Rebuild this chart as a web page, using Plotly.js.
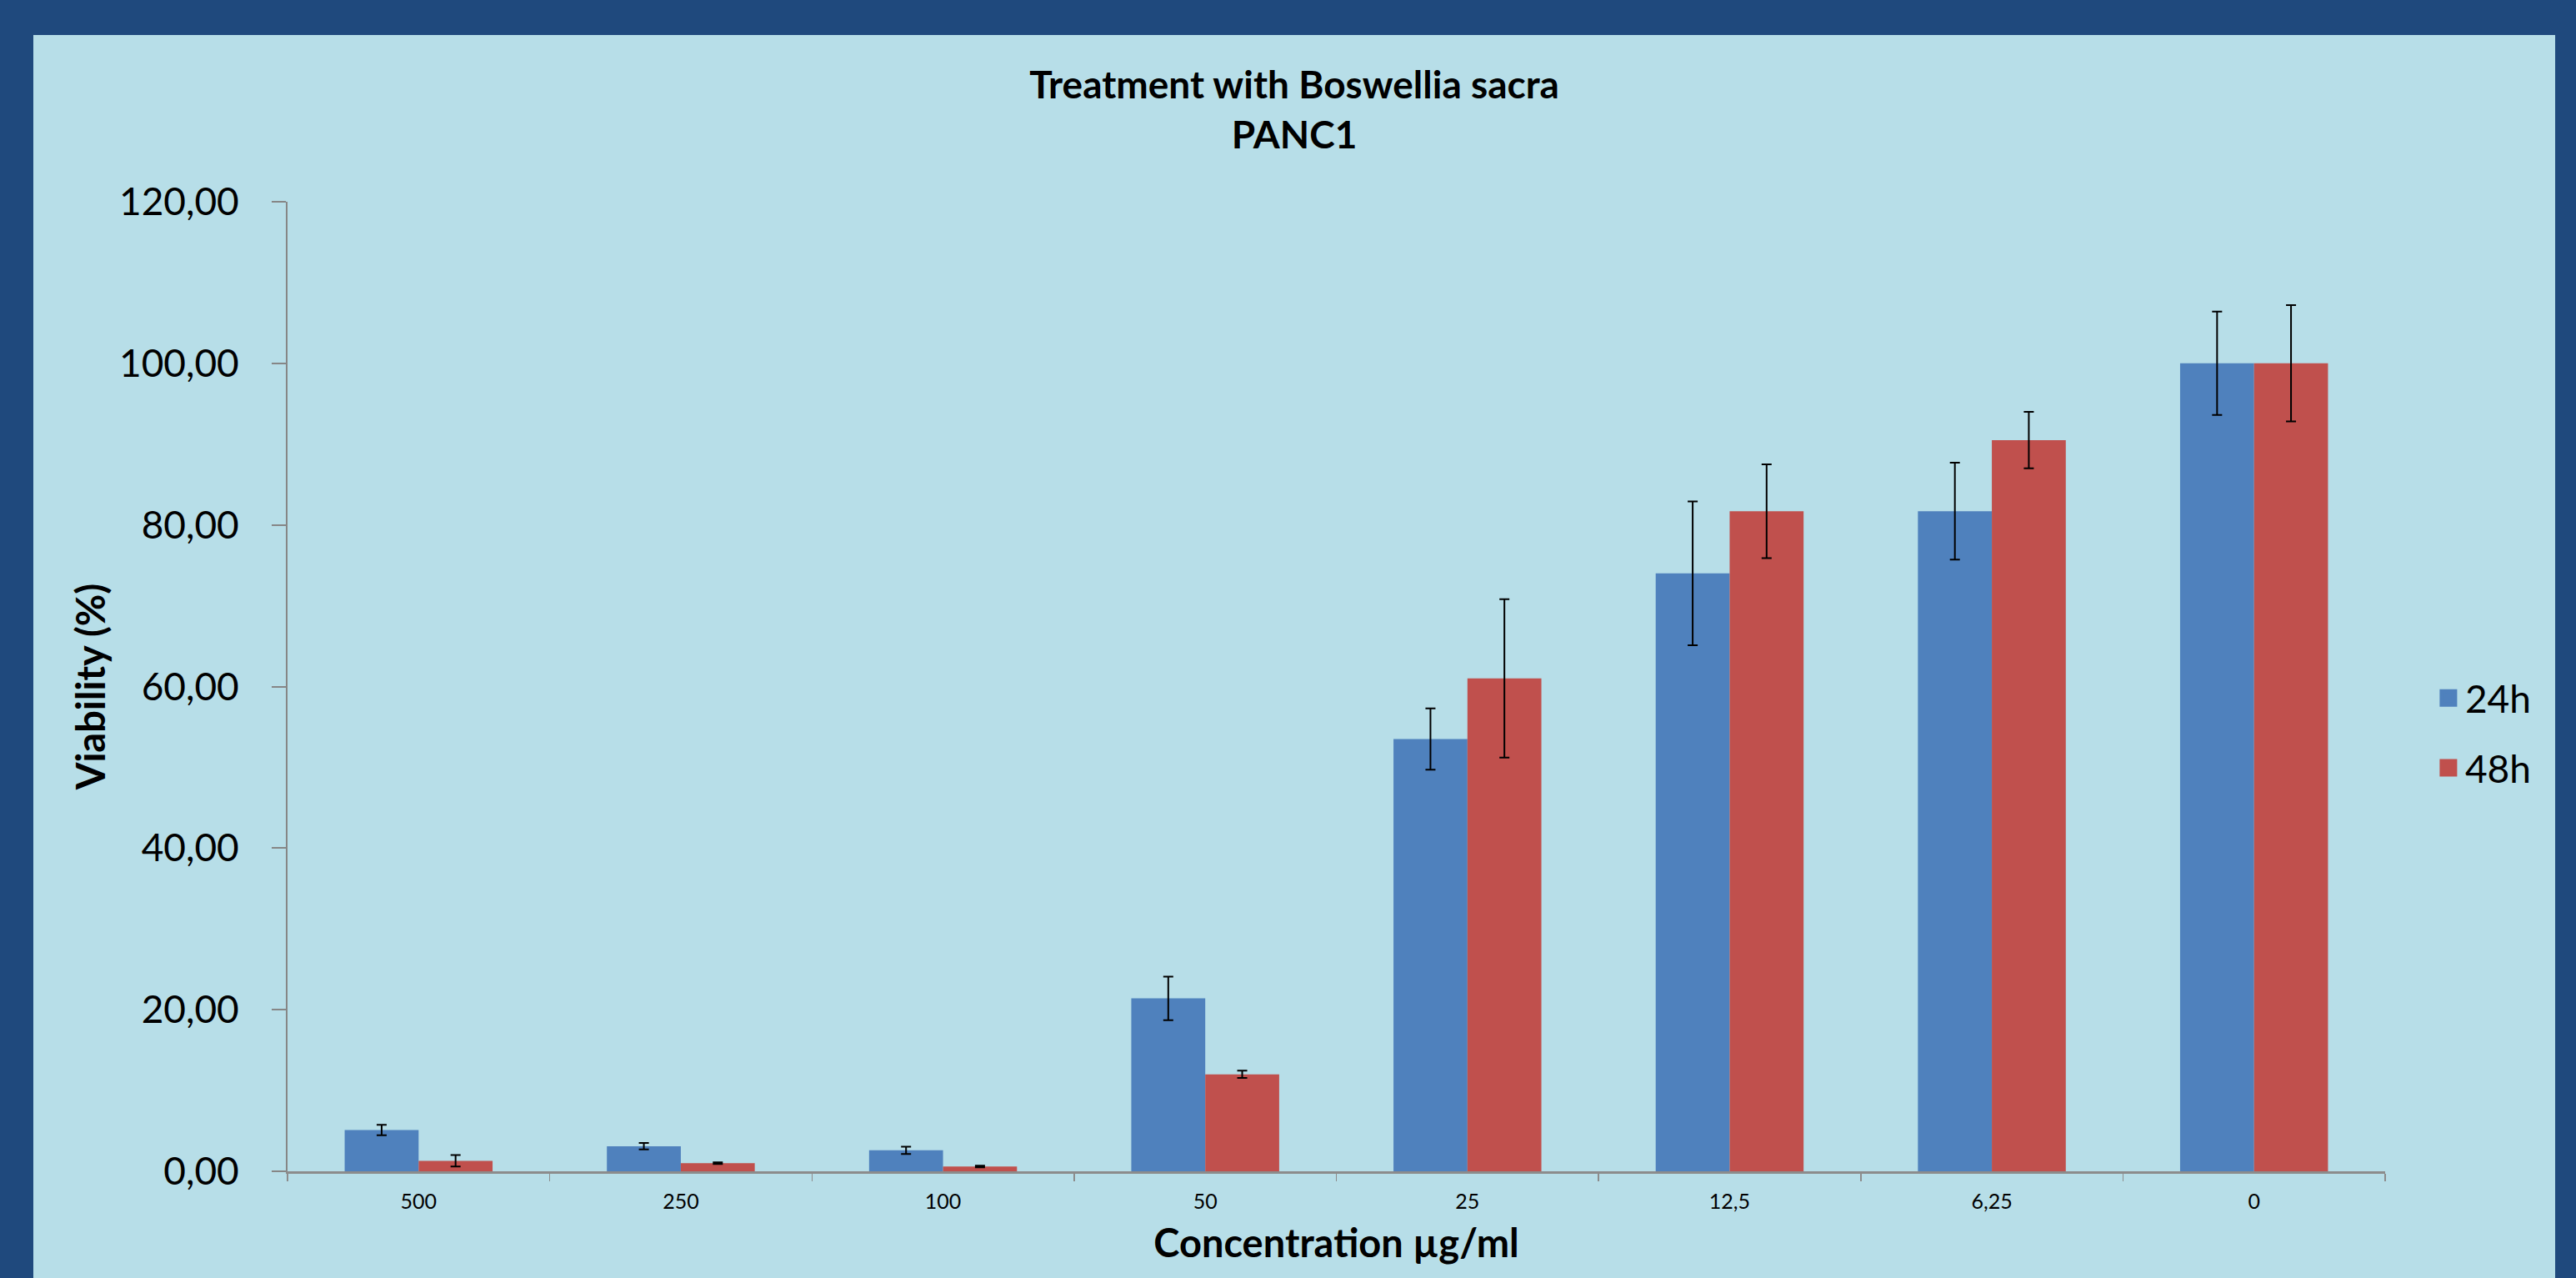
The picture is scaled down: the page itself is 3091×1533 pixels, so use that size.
<!DOCTYPE html>
<html>
<head>
<meta charset="utf-8">
<script src="https://cdn.plot.ly/plotly-3.0.1.min.js"></script>
<style>
  html, body { margin: 0; padding: 0; background: #1F497D; width: 3091px; height: 1533px; overflow: hidden; }
  #chart { position: absolute; left: 40px; top: 42px; width: 3026px; height: 1491px; }
</style>
</head>
<body>
<div id="chart"></div>
<script>
// Data
const concentrations = ["500", "250", "100", "50", "25", "12,5", "6,25", "0"];
const viability24h = [5.1, 3.1, 2.6, 21.4, 53.5, 74.0, 81.7, 100.0];
const error24h     = [0.65, 0.4, 0.45, 2.7, 3.8, 8.9, 6.0, 6.4];
const viability48h = [1.3, 1.0, 0.6, 12.0, 61.0, 81.7, 90.5, 100.0];
const error48h     = [0.7, 0.1, 0.1, 0.45, 9.8, 5.8, 3.5, 7.2];
const seriesNames  = ["24h", "48h"];
const seriesColors = ["#4F81BD", "#C0504D"];

const FONT = "Lato, 'Open Sans', sans-serif";

const traces = [
  {
    type: "bar", x: concentrations, y: viability24h, name: seriesNames[0],
    marker: { color: seriesColors[0] }, showlegend: false,
    error_y: { type: "data", array: error24h, visible: true, color: "#000000", thickness: 2, width: 6 }
  },
  {
    type: "bar", x: concentrations, y: viability48h, name: seriesNames[1],
    marker: { color: seriesColors[1] }, showlegend: false,
    error_y: { type: "data", array: error48h, visible: true, color: "#000000", thickness: 2, width: 6 }
  },
  // legend entries (square swatches)
  {
    type: "scatter", mode: "markers", x: [null], y: [null], name: seriesNames[0], legendgroup: "a",
    marker: { symbol: "square", size: 16, color: seriesColors[0], line: { color: seriesColors[0], width: 5 } },
    hoverinfo: "skip"
  },
  {
    type: "scatter", mode: "markers", x: [null], y: [null], name: seriesNames[1], legendgroup: "b",
    marker: { symbol: "square", size: 16, color: seriesColors[1], line: { color: seriesColors[1], width: 5 } },
    hoverinfo: "skip"
  }
];

const layout = {
  width: 3026, height: 1491,
  paper_bgcolor: "#B7DEE8",
  plot_bgcolor: "#B7DEE8",
  separators: ",.",
  font: { family: FONT, color: "#000000" },
  margin: { l: 305, r: 204, t: 200, b: 128, pad: 0 },
  title: {
    text: "<b>Treatment with Boswellia sacra<br>PANC1</b>",
    font: { family: FONT, size: 46, color: "#000000" },
    x: 0.5, xref: "container", xanchor: "center",
    y: 0.949, yref: "container", yanchor: "top"
  },
  barmode: "group",
  bargap: 0.436,
  bargroupgap: 0,
  xaxis: {
    type: "category",
    categoryorder: "array", categoryarray: concentrations,
    range: [-0.5, 7.5],
    showline: true, linecolor: "#8C8C8C", linewidth: 3,
    ticks: "outside", tickson: "boundaries", ticklen: 9, tickwidth: 1.5, tickcolor: "#8C8C8C",
    showgrid: false, zeroline: false,
    tickfont: { family: FONT, size: 25, color: "#000000" },
    ticklabelstandoff: 12,
    title: { text: "<b>Concentration µg/ml</b>", font: { family: FONT, size: 47, color: "#000000" }, standoff: 22 }
  },
  yaxis: {
    range: [0, 120], dtick: 20, tick0: 0,
    tickformat: ".2f",
    showline: true, linecolor: "#868686", linewidth: 2,
    ticks: "outside", ticklen: 17, tickwidth: 2, tickcolor: "#868686",
    showgrid: false, zeroline: false,
    tickfont: { family: FONT, size: 46, color: "#000000" },
    ticklabelstandoff: 30,
    title: { text: "<b>Viability (%)</b>", font: { family: FONT, size: 47, color: "#000000" }, standoff: 2 }
  },
  legend: {
    x: 1.0222, xanchor: "left",
    y: 0.452, yanchor: "middle",
    bgcolor: "rgba(0,0,0,0)",
    font: { family: FONT, size: 46, color: "#000000" },
    traceorder: "grouped", tracegroupgap: 21,
    itemwidth: 30
  },
  showlegend: true
};

Plotly.newPlot("chart", traces, layout, { staticPlot: true, displayModeBar: false });
</script>
</body>
</html>
